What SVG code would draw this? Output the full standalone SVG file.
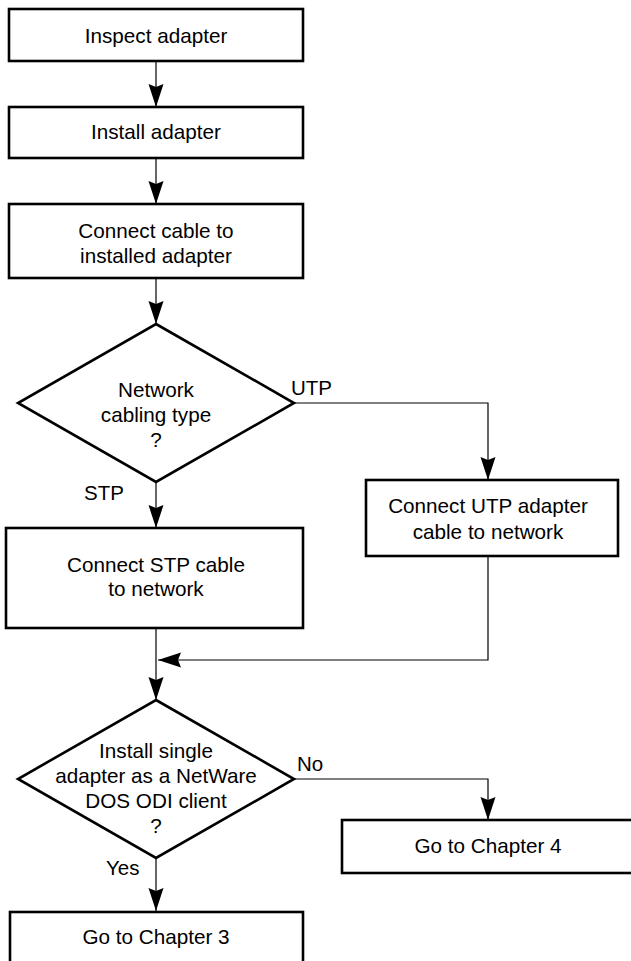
<svg xmlns="http://www.w3.org/2000/svg" width="631" height="961" viewBox="0 0 631 961">
<style>
.box{fill:#fff;stroke:#000;stroke-width:2.6}
.t{font-family:"Liberation Sans",Arial,Helvetica,sans-serif;font-size:20.7px;fill:#000;text-anchor:middle}
.lbl{font-family:"Liberation Sans",Arial,Helvetica,sans-serif;font-size:20.5px;fill:#000}
.c{fill:none;stroke:#000;stroke-width:1.2}
</style>
<defs>
<marker id="ah" markerUnits="userSpaceOnUse" markerWidth="24" markerHeight="16" viewBox="0 0 24 16" refX="23" refY="8" orient="auto">
<path d="M0,0.5 L23,8 L0,15.5 L3,8 z" fill="#000"/>
</marker>
</defs>
<g id="connectors">
<line class="c" x1="156" y1="61" x2="156" y2="107" marker-end="url(#ah)"/>
<line class="c" x1="156" y1="158" x2="156" y2="204" marker-end="url(#ah)"/>
<line class="c" x1="156" y1="278" x2="156" y2="324" marker-end="url(#ah)"/>
<line class="c" x1="156" y1="482" x2="156" y2="528" marker-end="url(#ah)"/>
<polyline class="c" points="295,403 488,403 488,480" marker-end="url(#ah)"/>
<polyline class="c" points="488,556 488,660 158,660" marker-end="url(#ah)"/>
<line class="c" x1="156" y1="628" x2="156" y2="700" marker-end="url(#ah)"/>
<polyline class="c" points="294,779 488,779 488,820" marker-end="url(#ah)"/>
<line class="c" x1="156" y1="858" x2="156" y2="911" marker-end="url(#ah)"/>
<text class="lbl" x="291" y="395">UTP</text>
<text class="lbl" x="84" y="500">STP</text>
<text class="lbl" x="297" y="771">No</text>
<text class="lbl" x="106" y="875">Yes</text>
</g>
<g id="inspect">
<rect class="box" x="9" y="9" width="294" height="52"/>
<text class="t" x="156" y="43">Inspect adapter</text>
</g>
<g id="install">
<rect class="box" x="9" y="107" width="294" height="51"/>
<text class="t" x="156" y="139">Install adapter</text>
</g>
<g id="connect-cable">
<rect class="box" x="9" y="204" width="294" height="74"/>
<text class="t" x="156" y="238">Connect cable to</text>
<text class="t" x="156" y="263">installed adapter</text>
</g>
<g id="cabling-type">
<polygon class="box" points="156,324 294,403 156,482 18,403"/>
<text class="t" x="156" y="397">Network</text>
<text class="t" x="156" y="422">cabling type</text>
<text class="t" x="156" y="447">?</text>
</g>
<g id="utp">
<rect class="box" x="366" y="480" width="252" height="76"/>
<text class="t" x="488" y="513">Connect UTP adapter</text>
<text class="t" x="488" y="539">cable to network</text>
</g>
<g id="stp">
<rect class="box" x="6" y="528" width="297" height="100"/>
<text class="t" x="156" y="572">Connect STP cable</text>
<text class="t" x="156" y="596">to network</text>
</g>
<g id="odi-client">
<polygon class="box" points="156,700 294,779 156,858 18,779"/>
<text class="t" x="156" y="758">Install single</text>
<text class="t" x="156" y="783">adapter as a NetWare</text>
<text class="t" x="156" y="808">DOS ODI client</text>
<text class="t" x="156" y="833">?</text>
</g>
<g id="chapter4">
<rect class="box" x="342" y="820" width="294" height="53"/>
<text class="t" x="488" y="853">Go to Chapter 4</text>
</g>
<g id="chapter3">
<rect class="box" x="10" y="912" width="293" height="56"/>
<text class="t" x="156" y="944">Go to Chapter 3</text>
</g>
</svg>
